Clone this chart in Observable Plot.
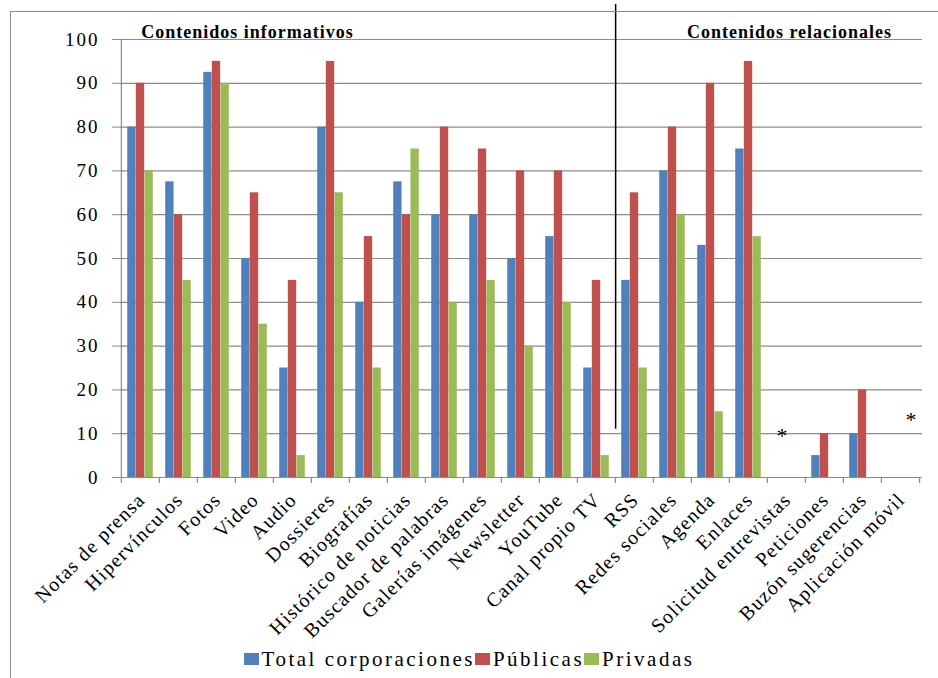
<!DOCTYPE html>
<html>
<head>
<meta charset="utf-8">
<script src="https://cdn.jsdelivr.net/npm/d3@7"></script>
<script src="https://cdn.jsdelivr.net/npm/@observablehq/plot@0.6"></script>
<style>
  html, body { margin: 0; padding: 0; background: #fff; overflow: hidden; }
  #wrap { position: relative; width: 938px; height: 678px; }
  #frame { position: absolute; left: 10px; top: 11px; width: 1000px; height: 1000px;
           border-left: 1.5px solid #8a8a8a; border-top: 1.5px solid #8a8a8a; pointer-events: none; }
  #chart { position: absolute; left: 0; top: 0; }
  #chart svg, #chart svg text, #chart svg g { font-family: 'Liberation Serif', serif !important; }
  #legend { position: absolute; left: 0; top: 640px; width: 938px; height: 38px;
            display: flex; justify-content: center; align-items: center;
            font-family: 'Liberation Serif', serif; font-size: 21px; letter-spacing: 2.5px; color: #000; }
  #legend .item { display: flex; align-items: center; }
  #legend .sw { width: 15px; height: 12px; margin-right: 3px; }
  g[aria-label="y-axis tick label"] text { letter-spacing: 2px; }
  g[aria-label="x-axis tick label"] text { letter-spacing: 1.2px; }
  g[aria-label="text"] text { letter-spacing: 1px; }
</style>
</head>
<body>
<div id="wrap">
  <div id="chart"></div>
  <div id="frame"></div>
  <div id="legend"></div>
</div>
<script>
const categories = ["Notas de prensa", "Hipervínculos", "Fotos", "Video", "Audio", "Dossieres",
  "Biografías", "Histórico de noticias", "Buscador de palabras", "Galerías imágenes", "Newsletter",
  "YouTube", "Canal propio TV", "RSS", "Redes sociales", "Agenda", "Enlaces",
  "Solicitud entrevistas", "Peticiones", "Buzón sugerencias", "Aplicación móvil"];
const seriesNames = ["Total corporaciones", "Públicas", "Privadas"];
const seriesColors = ["#4F81BD", "#C0504D", "#9BBB59"];
const total    = [80, 67.5, 92.5, 50, 25, 80, 40, 67.5, 60, 60, 50, 55, 25, 45, 70, 53, 75, null, 5, 10, null];
const publicas = [90, 60, 95, 65, 45, 95, 55, 60, 80, 75, 70, 70, 45, 65, 80, 90, 95, null, 10, 20, null];
const privadas = [70, 45, 90, 35, 5, 65, 25, 75, 40, 45, 30, 40, 5, 25, 60, 15, 55, null, null, null, null];
const yTicks = [0, 10, 20, 30, 40, 50, 60, 70, 80, 90, 100];
const sectionTitles = ["Contenidos informativos", "Contenidos relacionales"];
const sectionAt = ["Video", "Solicitud entrevistas"];
const sectionShift = [-7, 3];
const asteriskCats = ["Solicitud entrevistas", "Aplicación móvil"];
const asteriskY = [10, 13.5];
const asteriskShift = [-4, 11];

const seriesValues = [total, publicas, privadas];
const rows = [];
seriesValues.forEach((vals, s) => vals.forEach((v, i) => {
  if (v != null) rows.push({cat: categories[i], series: seriesNames[s], s, value: v});
}));

const W = 938, H = 640, ML = 118.5, MR = 16, MT = 39, MB = 163;
const bw = (W - ML - MR) / categories.length;
const barW = bw * 0.225;
const pad = (bw - 3 * barW) / 2;

const barMarks = seriesNames.map((name, s) =>
  Plot.barY(rows.filter(d => d.s === s), {
    x: "cat", y: "value", fill: seriesColors[s],
    insetLeft: pad + s * barW, insetRight: pad + (2 - s) * barW
  })
);
const asteriskMarks = asteriskCats.map((c, i) =>
  Plot.text([c], {x: d => d, y: () => asteriskY[i], text: () => "*", fontSize: 22, fill: "#000",
    lineAnchor: "middle", dy: 2, dx: asteriskShift[i]})
);
const titleMarks = sectionTitles.map((t, i) =>
  Plot.text([t], {x: () => sectionAt[i], y: () => 100, text: d => d, lineAnchor: "bottom", dy: -2,
    fontWeight: "bold", fontSize: 18, fill: "#000", dx: sectionShift[i]})
);

const plot = Plot.plot({
  width: W, height: H,
  marginLeft: ML, marginRight: MR, marginTop: MT, marginBottom: MB,
  style: "font-family: 'Liberation Serif', serif; background: transparent; overflow: visible;",
  x: {domain: categories, padding: 0},
  y: {domain: [0, 100]},
  marks: [
    Plot.ruleY(yTicks, {stroke: "#8c8c8c", strokeWidth: 1.2}),
    Plot.ruleX([categories[0]], {dx: -bw / 2, y1: 0, y2: 100, stroke: "#8c8c8c", strokeWidth: 1.2}),
    Plot.ruleX(categories, {dx: -bw / 2, y1: 0, y2: -1.35, stroke: "#8c8c8c", strokeWidth: 1.2}),
    Plot.ruleX([categories[categories.length - 1]], {dx: bw / 2, y1: 0, y2: -1.35, stroke: "#8c8c8c", strokeWidth: 1.2}),
    ...barMarks,
    Plot.axisY({ticks: yTicks, tickSize: 6.5, tickPadding: 13, stroke: "#8c8c8c", fontSize: 19, fill: "#000", label: null}),
    Plot.axisX({tickRotate: -45, tickSize: 0, tickPadding: 19, fontSize: 20, fill: "#000", label: null, dx: 1}),
    Plot.ruleX([categories[12]], {dx: bw / 2, y1: 11, y2: 108, stroke: "#000", strokeWidth: 1.5}),
    ...titleMarks,
    ...asteriskMarks
  ]
});
document.getElementById("chart").appendChild(plot);

const legend = d3.select("#legend");
seriesNames.forEach((name, s) => {
  const item = legend.append("div").attr("class", "item");
  item.append("div").attr("class", "sw").style("background", seriesColors[s]);
  item.append("span").text(name);
});
</script>
</body>
</html>
